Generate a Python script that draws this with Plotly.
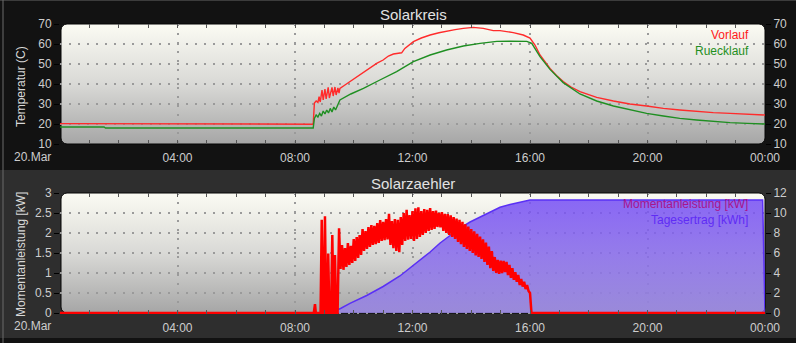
import base64
import plotly.graph_objects as go

W, H = 796, 343

# ---------------- data ----------------
# hours since 20.Mar 00:00
vor_t = [0, 0.75, 0.8, 8.62, 8.66, 8.72, 8.78, 8.82, 8.86, 8.92, 8.96, 9.02, 9.06, 9.13, 9.17, 9.26, 9.3, 9.36,
         9.4, 9.46, 9.5, 9.53, 9.7, 9.87, 10.1, 10.33, 10.55, 10.78, 11.0, 11.18, 11.35, 11.63, 11.74, 12.03, 12.3,
         12.6, 12.9, 13.16, 13.45, 13.73, 14.07, 14.41, 14.6, 14.75, 14.98, 15.2, 15.43, 15.77, 16.0, 16.17, 16.34,
         16.68, 16.9, 17.13, 17.4, 17.7, 18.0, 18.27, 18.84, 19.4, 19.97, 20.54, 21.1, 21.67, 22.24, 22.81, 23.4, 24.0]
vor_v = [20.2, 20.2, 19.9, 19.9, 30.5, 31.5, 30.8, 33.7, 31.0, 37.0, 32.0, 37.5, 32.5, 38.3, 33.0, 38.3, 34.0, 38.5,
         34.5, 38.0, 35.5, 37.8, 39.5, 41.2, 43.8, 46.2, 48.0, 50.3, 52.0, 54.0, 55.0, 55.6, 57.8, 61.2, 63.0,
         64.5, 65.6, 66.5, 67.2, 67.8, 68.3, 67.8, 67.0, 66.7, 66.7, 66.2, 65.7, 64.5, 63.0, 59.5, 54.5,
         47.8, 44.3, 41.2, 38.5, 36.2, 34.5, 33.3, 31.5, 30.0, 29.0, 27.8, 27.0, 26.2, 25.7, 25.3, 24.9, 24.5]

rue_t = [0, 1.5, 1.55, 8.62, 8.66, 8.72, 8.78, 8.84, 8.9, 8.96, 9.02, 9.08, 9.14, 9.2, 9.26, 9.32, 9.38, 9.44,
         9.48, 9.53, 9.9, 10.33, 10.89, 11.46, 12.03, 12.6, 13.16, 13.73, 14.3, 14.87, 15.3, 15.89, 16.06, 16.34,
         16.68, 17.13, 17.7, 18.27, 18.84, 19.4, 19.97, 20.54, 21.1, 21.67, 22.24, 22.81, 23.4, 24.0]
rue_v = [18.5, 18.5, 18.0, 18.0, 22.8, 24.5, 23.5, 25.3, 24.0, 26.5, 25.0, 27.0, 25.5, 27.8, 26.0, 28.5, 27.0, 29.0,
         30.3, 32.0, 35.0, 37.8, 42.0, 46.2, 51.2, 54.5, 57.0, 59.0, 60.3, 61.3, 61.4, 61.3, 60.3, 53.7,
         47.3, 40.7, 35.0, 31.5, 29.0, 27.0, 25.3, 24.0, 22.8, 22.0, 21.3, 20.7, 20.3, 20.0]

# Momentanleistung [kW]
pw_pre_t = [0, 8.64, 8.68, 8.71, 8.87, 8.91, 8.95, 8.98, 9.02, 9.06, 9.10, 9.13, 9.17, 9.23, 9.27, 9.31, 9.33,
            9.36, 9.40, 9.45, 9.50]
pw_pre_v = [0, 0, 0.22, 0, 0, 2.33, 0, 0, 2.42, 0, 0, 1.49, 0, 0, 1.95, 0, 0, 1.45, 0, 0, 2.12]
pw_band_start = 9.55   # samples every 0.05 h
pw_band_step = 0.05
pw_band_v = [
    1.10, 1.70, 1.08, 1.62, 1.15, 1.75, 1.20, 1.68, 1.25, 1.85,
    1.30, 1.90, 1.38, 1.95, 1.45, 2.10, 1.55, 2.05, 1.60, 2.15,
    1.65, 2.20, 1.70, 2.18, 1.72, 2.25, 1.75, 2.32, 1.80, 2.28,
    1.82, 2.35, 1.84, 2.48, 1.70, 2.30, 1.62, 2.35, 1.55, 2.33,
    1.52, 2.40, 1.70, 2.50, 1.80, 2.58, 1.83, 2.45, 1.85, 2.55,
    1.80, 2.62, 1.85, 2.64, 1.90, 2.55, 1.95, 2.60, 2.00, 2.58,
    2.05, 2.62, 2.08, 2.55, 2.10, 2.56, 2.15, 2.50, 2.14, 2.52,
    2.05, 2.48, 2.00, 2.47, 1.95, 2.44, 1.90, 2.40, 1.85, 2.36,
    1.78, 2.33, 1.72, 2.28, 1.65, 2.22, 1.60, 2.16, 1.55, 2.10,
    1.50, 2.04, 1.44, 1.98, 1.40, 1.91, 1.35, 1.84, 1.28, 1.76,
    1.20, 1.66, 1.12, 1.55, 1.05, 1.40, 1.00, 1.33, 0.98, 1.31,
    1.00, 1.30, 1.02, 1.28, 0.95, 1.20, 0.88, 1.12, 0.83, 1.02,
    0.78, 0.95, 0.70, 0.85, 0.66, 0.78, 0.60, 0.70, 0.55, 0.50]
pw_post_t = [16.05, 24.0]
pw_post_v = [0, 0]

# Tagesertrag [kWh]
ert_t = [0, 9.2, 9.55, 9.87, 10.44, 11.0, 11.57, 12.14, 12.6, 12.94, 13.28, 13.62, 13.96, 14.3, 14.64, 14.98,
         15.32, 15.66, 16.0, 23.92, 24.0]
ert_v = [0, 0, 0.45, 0.97, 1.75, 2.65, 3.7, 5.0, 6.1, 7.0, 7.75, 8.5, 9.1, 9.6, 10.15, 10.57,
         10.85, 11.1, 11.3, 11.3, 0]

x_tickvals = [0, 4, 8, 12, 16, 20, 24]
x_ticktext = ["", "04:00", "08:00", "12:00", "16:00", "20:00", "00:00"]
first_label = "20.Mar"

pw_band_t = [round(pw_band_start + pw_band_step * i, 3) for i in range(len(pw_band_v))]
pw_t = pw_pre_t + pw_band_t + pw_post_t
pw_v = pw_pre_v + pw_band_v + pw_post_v

# ---------------- layout helpers ----------------
def fx(p):
    return p / W

def fy(p):
    return 1 - p / H

FONT = "Liberation Sans, Arial, sans-serif"
TICKC = "#cdcdcd"
GRIDC = "#9a9a9a"

svg = f'''<svg xmlns="http://www.w3.org/2000/svg" width="{W}" height="{H}" viewBox="0 0 {W} {H}" preserveAspectRatio="none">
<defs><linearGradient id="g" x1="0" y1="0" x2="0" y2="1">
<stop offset="0" stop-color="#fbfbf3"/><stop offset="0.5" stop-color="#d9d9d6"/><stop offset="1" stop-color="#a6a6a6"/>
</linearGradient></defs>
<rect x="0" y="0" width="{W}" height="{H}" fill="#121212"/>
<rect x="0" y="170" width="{W}" height="168" fill="#2e2e2e"/>
<rect x="0" y="0" width="{W}" height="1" fill="#3c3c3c"/>
<rect x="2.5" y="0" width="1" height="{H}" fill="#6a6a6a"/>
<rect x="61" y="24" width="704" height="120" rx="6" fill="url(#g)" stroke="#050505" stroke-width="1"/>
<rect x="61" y="193" width="704" height="120" rx="6" fill="url(#g)" stroke="#050505" stroke-width="1"/>
</svg>'''
bg_uri = "data:image/svg+xml;base64," + base64.b64encode(svg.encode()).decode()

fig = go.Figure()
fig.add_trace(go.Scatter(x=vor_t, y=vor_v, xaxis="x", yaxis="y", mode="lines", name="Vorlauf",
                         line=dict(color="#ff2b2b", width=1.4), showlegend=False, hoverinfo="skip"))
fig.add_trace(go.Scatter(x=rue_t, y=rue_v, xaxis="x", yaxis="y2", mode="lines", name="Ruecklauf",
                         line=dict(color="#1f8f22", width=1.4), showlegend=False, hoverinfo="skip"))
fig.add_trace(go.Scatter(x=ert_t, y=ert_v, xaxis="x2", yaxis="y3", mode="lines", name="Tagesertrag [kWh]",
                         fill="tozeroy",
                         fillgradient=dict(type="vertical",
                                           colorscale=[[0, "rgba(150,130,232,0.78)"],
                                                       [1, "rgba(118,78,245,0.85)"]]),
                         line=dict(color="#5a30f5", width=1.5), showlegend=False, hoverinfo="skip"))
fig.add_trace(go.Scatter(x=pw_t, y=pw_v, xaxis="x2", yaxis="y4", mode="lines", name="Momentanleistung [kW]",
                         line=dict(color="#ff0000", width=2.5, simplify=False),
                         showlegend=False, hoverinfo="skip"))

xcommon = dict(range=[0, 24], tickvals=x_tickvals, ticktext=x_ticktext, showgrid=True, gridcolor=GRIDC,
               griddash="2px,7px", gridwidth=1.5, zeroline=False, showline=False, ticks="inside", ticklen=4,
               tickcolor="#555555", mirror="ticks", automargin=False, ticklabelstandoff=5,
               minor=dict(dtick=1, tick0=0, ticks="inside", ticklen=4, tickcolor="#555555", showgrid=False),
               tickfont=dict(family=FONT, size=12, color=TICKC), domain=[fx(60), fx(765)])
ycommon = dict(zeroline=False, showline=False, ticks="outside", ticklen=5, tickcolor="#000000",
               automargin=False, tickfont=dict(family=FONT, size=12, color=TICKC))

top_dom = [fy(144), fy(24)]
bot_dom = [fy(314), fy(193)]

fig.update_layout(
    width=W, height=H, autosize=False, margin=dict(l=0, r=0, t=0, b=0, pad=0, autoexpand=False),
    paper_bgcolor="#121212", plot_bgcolor="rgba(0,0,0,0)",
    showlegend=False,
    xaxis=dict(anchor="y", **xcommon),
    yaxis=dict(domain=top_dom, anchor="x", range=[10, 70], dtick=10, showgrid=True, gridcolor=GRIDC,
               griddash="2px,7px", gridwidth=1.5, **ycommon),
    yaxis2=dict(overlaying="y", side="right", anchor="x", range=[10, 70], dtick=10, showgrid=False, **ycommon),
    xaxis2=dict(anchor="y3", **xcommon),
    yaxis3=dict(domain=bot_dom, anchor="x2", side="right", range=[-0.1, 12], tickvals=[0, 2, 4, 6, 8, 10, 12],
                showgrid=False, **ycommon),
    yaxis4=dict(overlaying="y3", anchor="x2", side="left", range=[-0.025, 3],
                tickvals=[0, 0.5, 1, 1.5, 2, 2.5, 3], ticktext=["0", "0.5", "1", "1.5", "2", "2.5", "3"],
                showgrid=True, gridcolor=GRIDC, griddash="2px,7px", gridwidth=1.5, **ycommon),
    images=[dict(source=bg_uri, xref="paper", yref="paper", x=0, y=1, sizex=1, sizey=1,
                 xanchor="left", yanchor="top", sizing="stretch", layer="below")],
)

ann = []
def text(s, x, y, size, color, xanchor="center", angle=0):
    ann.append(dict(text=s, x=fx(x), y=fy(y), xref="paper", yref="paper", showarrow=False,
                    xanchor=xanchor, yanchor="middle", textangle=angle,
                    font=dict(family=FONT, size=size, color=color)))

text("Solarkreis", 413, 14, 15, "#e2e2e2")
text("Solarzaehler", 413, 183, 15, "#e2e2e2")
text("Temperatur (C)", 21, 87, 12, "#d8d8d8", angle=-90)
text("Momentanleistung [kW]", 21, 255, 12, "#d8d8d8", angle=-90)
text(first_label, 53, 157, 12, TICKC, xanchor="right")
text(first_label, 53, 326, 12, TICKC, xanchor="right")
text("Vorlauf", 751, 35, 12, "#ff1a1a", xanchor="right")
text("Ruecklauf", 751, 51, 12, "#1f8f22", xanchor="right")
text("Momentanleistung [kW]", 750, 204, 12, "#a8168c", xanchor="right")
text("Tagesertrag [kWh]", 750, 220, 12, "#5f2cf5", xanchor="right")
fig.update_layout(annotations=ann)

fig.write_html("out.html", config={"responsive": False})
